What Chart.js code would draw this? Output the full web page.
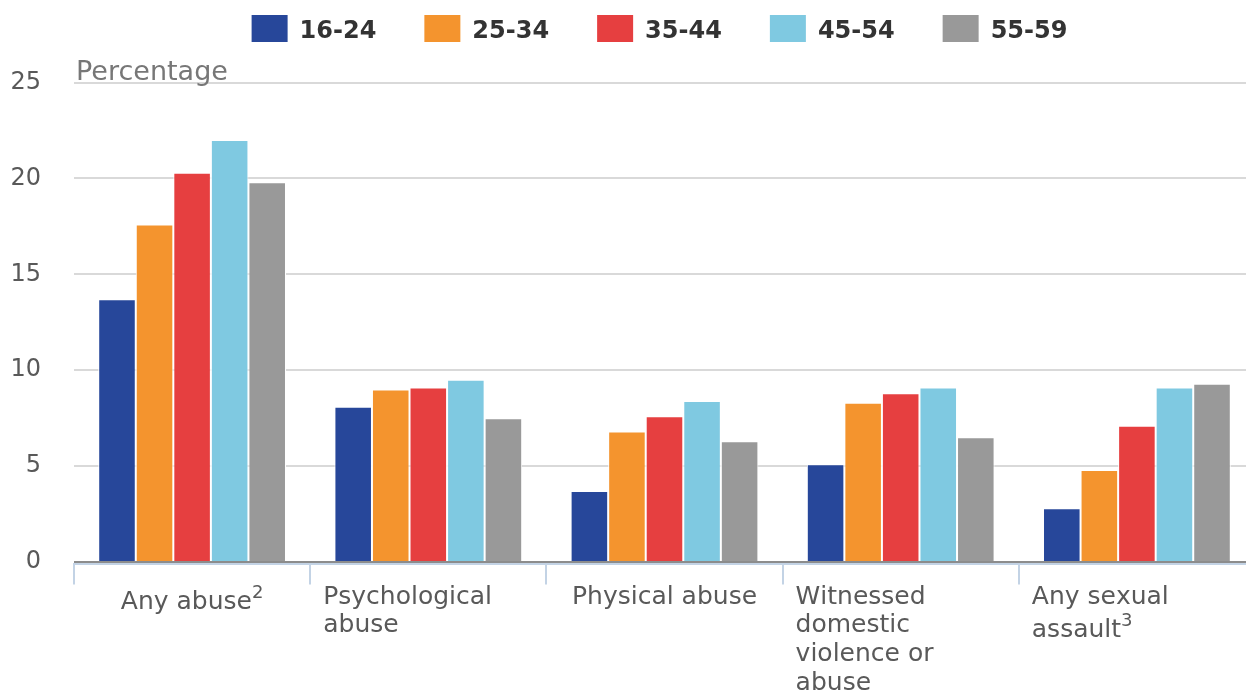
<!DOCTYPE html>
<html>
<head>
<meta charset="utf-8">
<script src="https://cdn.jsdelivr.net/npm/chart.js@4"></script>
<style>
  html, body { margin: 0; padding: 0; background: #fff; overflow: hidden; }
  #wrap { position: relative; width: 1256px; height: 691px; }
</style>
</head>
<body>
<div id="wrap"><canvas id="c"></canvas></div>
<script>
/* ===== Grouped bars: abuse type by age group ===== */
const categories = [["Any abuse²"], ["Psychological", "abuse"], ["Physical abuse"], ["Witnessed", "domestic", "violence or", "abuse"], ["Any sexual", "assault³"]];
const ageGroups = ["16-24", "25-34", "35-44", "45-54", "55-59"];
const age16to24 = [13.7, 8.1, 3.7, 5.1, 2.8];
const age25to34 = [17.6, 9.0, 6.8, 8.3, 4.8];
const age35to44 = [20.3, 9.1, 7.6, 8.8, 7.1];
const age45to54 = [22.0, 9.5, 8.4, 9.1, 9.1];
const age55to59 = [19.8, 7.5, 6.3, 6.5, 9.3];
const yTicks = [0, 5, 10, 15, 20, 25];
const yTitle = "Percentage";

const colours = ["#27479A", "#F4942E", "#E63F40", "#7FC9E1", "#999999"];
const FONT = "'DejaVu Sans', sans-serif";
const SUP = { "²": "2", "³": "3" };

// text with superscript digits drawn smaller and raised
function richWidth(ctx, text, size) {
  let w = 0;
  for (const ch of text) {
    ctx.font = SUP[ch] ? `18px ${FONT}` : `${size}px ${FONT}`;
    w += ctx.measureText(SUP[ch] || ch).width;
  }
  return w;
}
function drawRich(ctx, text, x, y, size) {
  for (const ch of text) {
    const sup = SUP[ch];
    ctx.font = sup ? `18px ${FONT}` : `${size}px ${FONT}`;
    ctx.fillText(sup || ch, x, sup ? y - 11 : y);
    x += ctx.measureText(sup || ch).width;
  }
}

const overlay = {
  id: "overlay",
  afterDraw(chart) {
    const { ctx, chartArea, scales } = chart;
    ctx.save();
    ctx.textBaseline = "alphabetic";
    ctx.textAlign = "left";

    // axis title sitting on the top gridline
    ctx.font = `27px ${FONT}`;
    ctx.fillStyle = "#777777";
    ctx.fillText(yTitle, chartArea.left + 2, scales.y.getPixelForValue(25) - 3);

    // category labels: single line centred, wrapped ones left aligned
    const x = scales.x;
    const step = x.getPixelForValue(1) - x.getPixelForValue(0);
    ctx.fillStyle = "#595959";
    categories.forEach((lines, i) => {
      const cx = x.getPixelForValue(i);
      lines.forEach((line, j) => {
        const hasSup = [...line].some((c) => SUP[c]);
        const y = chartArea.bottom + 40 + j * 28.7 + (hasSup ? 5 : 0);
        const w = richWidth(ctx, line, 25);
        const lx = lines.length === 1 ? cx - w / 2 : cx - step / 2 + 13;
        drawRich(ctx, line, lx, y, 25);
      });
    });

    // legend
    ctx.font = `bold 24px ${FONT}`;
    const widths = ageGroups.map((g) => 48 + ctx.measureText(g).width);
    const gap = 48;
    const total = widths.reduce((a, b) => a + b, 0) + gap * (widths.length - 1);
    let lx = (chartArea.left + chartArea.right) / 2 - 5 - total / 2;
    ageGroups.forEach((g, i) => {
      ctx.fillStyle = colours[i];
      ctx.fillRect(lx, 15, 36, 27);
      ctx.fillStyle = "#333333";
      ctx.fillText(g, lx + 48, 37.5);
      lx += widths[i] + gap;
    });
    ctx.restore();
  },
};

const series = [age16to24, age25to34, age35to44, age45to54, age55to59];

new Chart(document.getElementById("c"), {
  type: "bar",
  data: {
    labels: categories,
    datasets: series.map((data, i) => ({
      label: ageGroups[i], data,
      backgroundColor: colours[i],
      borderColor: "#ffffff", borderWidth: 1,
      categoryPercentage: 0.795, barPercentage: 1,
    })),
  },
  options: {
    responsive: true, maintainAspectRatio: false, animation: false,
    layout: { padding: { top: 82.5, right: 1, left: 0, bottom: 0 } },
    plugins: { legend: { display: false }, tooltip: { enabled: false } },
    scales: {
      x: {
        grid: { offset: true, drawOnChartArea: false, drawTicks: true, tickLength: 21, color: "#c3d3e5", lineWidth: 2 },
        border: { display: true, color: "#c3d3e5", width: 2 },
        ticks: { display: false },
        afterFit(s) { s.height = 127.5; },
      },
      y: {
        min: -0.078, max: 25,
        afterBuildTicks(s) { s.ticks = yTicks.map((v) => ({ value: v })); },
        grid: { drawTicks: false, lineWidth: 2, color: (c) => (c.tick && c.tick.value === 0 ? "#8c8c8c" : "#d9d9d9") },
        border: { display: false },
        ticks: { padding: 33, color: "#595959", font: { family: FONT, size: 24 } },
        afterFit(s) { s.width = 74; },
      },
    },
  },
  plugins: [overlay],
});
</script>
</body>
</html>
